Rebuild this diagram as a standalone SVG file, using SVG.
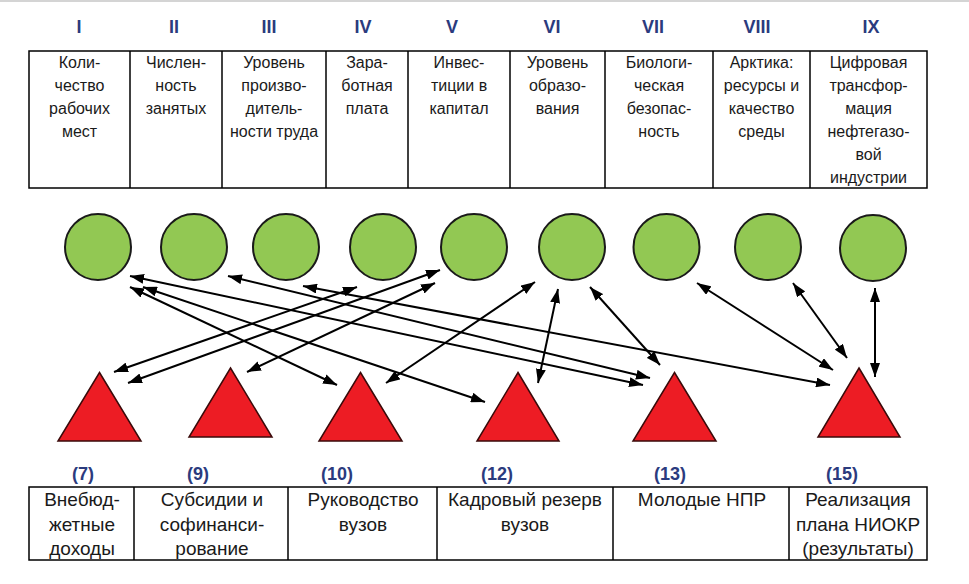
<svg xmlns="http://www.w3.org/2000/svg" width="969" height="584" viewBox="0 0 969 584">
<defs>
<marker id="ah" viewBox="0 0 14 10" refX="14" refY="5" markerUnits="userSpaceOnUse" markerWidth="14" markerHeight="10" orient="auto-start-reverse">
<path d="M0,0 L14,5 L0,10 z" fill="#000"/>
</marker>
<style>
.cell{fill:#fff;stroke:#000;stroke-width:1.5}
.t{font-family:"Liberation Sans",Arial,sans-serif;font-size:16px;fill:#1a1a1a;text-anchor:middle}
.b{font-family:"Liberation Sans",Arial,sans-serif;font-size:19px;fill:#1a1a1a;text-anchor:middle}
.num{font-family:"Liberation Sans",Arial,sans-serif;font-size:18px;font-weight:bold;fill:#2b3b7e;text-anchor:middle}
.circ{fill:#92c853;stroke:#1a1a1a;stroke-width:2}
.tri{fill:#ed1c24;stroke:#3a0a0a;stroke-width:1.5}
.c line{stroke:#000;stroke-width:2;marker-start:url(#ah);marker-end:url(#ah)}
</style>
</defs>
<rect x="0" y="0" width="969" height="584" fill="#fff"/>
<rect x="0" y="0" width="969" height="2" fill="#d4d4d4"/>

<g id="top-table">
<rect class="cell" x="29" y="51" width="898" height="137"/>
<line x1="130" y1="51" x2="130" y2="188" stroke="#000" stroke-width="1.5"/>
<line x1="222" y1="51" x2="222" y2="188" stroke="#000" stroke-width="1.5"/>
<line x1="326" y1="51" x2="326" y2="188" stroke="#000" stroke-width="1.5"/>
<line x1="408" y1="51" x2="408" y2="188" stroke="#000" stroke-width="1.5"/>
<line x1="510" y1="51" x2="510" y2="188" stroke="#000" stroke-width="1.5"/>
<line x1="605" y1="51" x2="605" y2="188" stroke="#000" stroke-width="1.5"/>
<line x1="713" y1="51" x2="713" y2="188" stroke="#000" stroke-width="1.5"/>
<line x1="810" y1="51" x2="810" y2="188" stroke="#000" stroke-width="1.5"/>
</g>

<g id="col-I"><text class="num" x="79" y="33">I</text>
<text class="t" x="79.5" y="68">Коли-</text><text class="t" x="79.5" y="91">чество</text><text class="t" x="79.5" y="114">рабочих</text><text class="t" x="79.5" y="137">мест</text></g>
<g id="col-II"><text class="num" x="174" y="33">II</text>
<text class="t" x="176" y="68">Числен-</text><text class="t" x="176" y="91">ность</text><text class="t" x="176" y="114">занятых</text></g>
<g id="col-III"><text class="num" x="269" y="33">III</text>
<text class="t" x="274" y="68">Уровень</text><text class="t" x="274" y="91">произво-</text><text class="t" x="274" y="114">дитель-</text><text class="t" x="274" y="137">ности труда</text></g>
<g id="col-IV"><text class="num" x="363" y="33">IV</text>
<text class="t" x="367" y="68">Зара-</text><text class="t" x="367" y="91">ботная</text><text class="t" x="367" y="114">плата</text></g>
<g id="col-V"><text class="num" x="452" y="33">V</text>
<text class="t" x="459" y="68">Инвес-</text><text class="t" x="459" y="91">тиции в</text><text class="t" x="459" y="114">капитал</text></g>
<g id="col-VI"><text class="num" x="552" y="33">VI</text>
<text class="t" x="557.5" y="68">Уровень</text><text class="t" x="557.5" y="91">образо-</text><text class="t" x="557.5" y="114">вания</text></g>
<g id="col-VII"><text class="num" x="653" y="33">VII</text>
<text class="t" x="659" y="68">Биологи-</text><text class="t" x="659" y="91">ческая</text><text class="t" x="659" y="114">безопас-</text><text class="t" x="659" y="137">ность</text></g>
<g id="col-VIII"><text class="num" x="757" y="33">VIII</text>
<text class="t" x="761.5" y="68">Арктика:</text><text class="t" x="761.5" y="91">ресурсы и</text><text class="t" x="761.5" y="114">качество</text><text class="t" x="761.5" y="137">среды</text></g>
<g id="col-IX"><text class="num" x="871" y="33">IX</text>
<text class="t" x="868.5" y="68">Цифровая</text><text class="t" x="868.5" y="91">трансфор-</text><text class="t" x="868.5" y="114">мация</text><text class="t" x="868.5" y="137">нефтегазо-</text><text class="t" x="868.5" y="160">вой</text><text class="t" x="868.5" y="183">индустрии</text></g>

<g id="circle-1"><circle class="circ" cx="98" cy="247" r="33"/></g>
<g id="circle-2"><circle class="circ" cx="194" cy="247" r="33"/></g>
<g id="circle-3"><circle class="circ" cx="286" cy="247" r="33"/></g>
<g id="circle-4"><circle class="circ" cx="383" cy="247" r="33"/></g>
<g id="circle-5"><circle class="circ" cx="474" cy="247" r="33"/></g>
<g id="circle-6"><circle class="circ" cx="572" cy="247" r="33"/></g>
<g id="circle-7"><circle class="circ" cx="666.5" cy="247" r="33"/></g>
<g id="circle-8"><circle class="circ" cx="768" cy="247" r="33"/></g>
<g id="circle-9"><circle class="circ" cx="873" cy="248" r="33"/></g>

<g id="tri-7"><polygon class="tri" points="99.5,372.5 141,441 58,441"/></g>
<g id="tri-9"><polygon class="tri" points="230.5,368 272,437 189,437"/></g>
<g id="tri-10"><polygon class="tri" points="360.5,372.5 402,441 319,441"/></g>
<g id="tri-12"><polygon class="tri" points="518,372.5 559,441 477,441"/></g>
<g id="tri-13"><polygon class="tri" points="674.5,372.5 716,441 633,441"/></g>
<g id="tri-15"><polygon class="tri" points="859,368 900,437 818,437"/></g>

<g id="connectors" class="c">
<line x1="130" y1="276" x2="643" y2="385"/>
<line x1="130" y1="287" x2="337" y2="385"/>
<line x1="143" y1="287" x2="485" y2="402"/>
<line x1="228" y1="276" x2="650" y2="378"/>
<line x1="303" y1="286" x2="830" y2="385"/>
<line x1="357" y1="287" x2="114" y2="372"/>
<line x1="440" y1="270" x2="128" y2="383"/>
<line x1="435" y1="283" x2="247" y2="372"/>
<line x1="535" y1="282" x2="386" y2="383"/>
<line x1="558" y1="289" x2="538" y2="383"/>
<line x1="590" y1="287" x2="660" y2="365"/>
<line x1="697" y1="283" x2="833" y2="370"/>
<line x1="793" y1="283" x2="847" y2="358"/>
<line x1="875" y1="288" x2="875" y2="377"/>
</g>

<g id="labels">
<text class="num" x="83" y="480">(7)</text>
<text class="num" x="198" y="480">(9)</text>
<text class="num" x="337" y="480">(10)</text>
<text class="num" x="497" y="480">(12)</text>
<text class="num" x="670" y="480">(13)</text>
<text class="num" x="842" y="480">(15)</text>
</g>

<g id="bottom-table">
<rect class="cell" x="29" y="487" width="898" height="73"/>
<line x1="134" y1="487" x2="134" y2="560" stroke="#000" stroke-width="1.5"/>
<line x1="288" y1="487" x2="288" y2="560" stroke="#000" stroke-width="1.5"/>
<line x1="437" y1="487" x2="437" y2="560" stroke="#000" stroke-width="1.5"/>
<line x1="613" y1="487" x2="613" y2="560" stroke="#000" stroke-width="1.5"/>
<line x1="789" y1="487" x2="789" y2="560" stroke="#000" stroke-width="1.5"/>
</g>
<g id="cell-7"><text class="b" x="82" y="506">Внебюд-</text><text class="b" x="82" y="530.5">жетные</text><text class="b" x="82" y="555">доходы</text></g>
<g id="cell-9"><text class="b" x="212" y="506">Субсидии и</text><text class="b" x="212" y="530.5">софинанси-</text><text class="b" x="212" y="555">рование</text></g>
<g id="cell-10"><text class="b" x="363" y="506">Руководство</text><text class="b" x="363" y="530.5">вузов</text></g>
<g id="cell-12"><text class="b" x="525" y="506">Кадровый резерв</text><text class="b" x="525" y="530.5">вузов</text></g>
<g id="cell-13"><text class="b" x="702" y="506">Молодые НПР</text></g>
<g id="cell-15"><text class="b" x="858" y="506">Реализация</text><text class="b" x="858" y="530.5">плана НИОКР</text><text class="b" x="858" y="555">(результаты)</text></g>
</svg>
